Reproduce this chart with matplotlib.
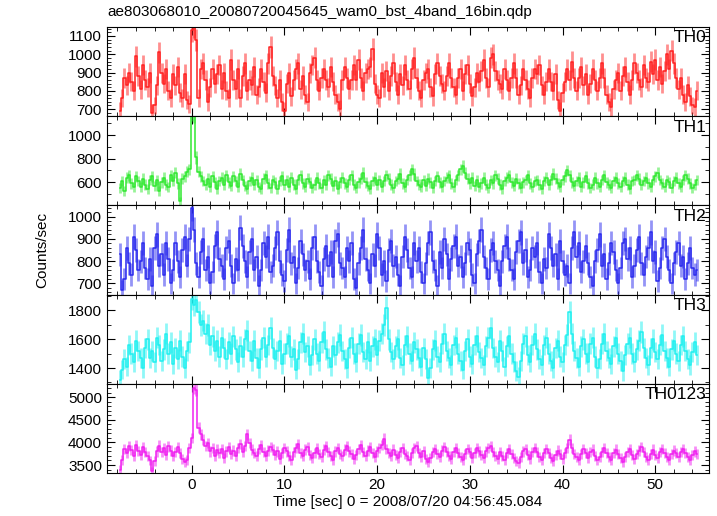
import numpy as np
import matplotlib
matplotlib.use("Agg")
import matplotlib.pyplot as plt
from matplotlib.ticker import MultipleLocator

plt.rcParams['font.family'] = ['Liberation Sans', 'DejaVu Sans']

# light curves, 0.25 s bins starting at t = -7.75 s
bin_start = -7.75
bin_width = 0.25

th0 = [
    690, 760, 870, 830, 900, 850, 800, 990, 880, 810, 940, 860,
    820, 900, 680, 720, 830, 1010, 900, 840, 920, 800, 760, 890,
    830, 930, 790, 760, 890, 750, 730, 1130, 1150, 1080, 760, 920,
    950, 860, 740, 820, 920, 840, 890, 940, 810, 900, 800, 760,
    970, 860, 810, 920, 760, 880, 950, 800, 860, 830, 930, 780,
    820, 920, 850, 790, 950, 1040, 880, 830, 760, 860, 740, 690,
    840, 900, 770, 860, 920, 950, 810, 880, 780, 740, 900, 940,
    980, 860, 800, 870, 920, 860, 820, 930, 850, 780, 740, 700,
    860, 930, 870, 810, 860, 940, 860, 970, 870, 800, 900, 920,
    930, 1030, 840, 780, 760, 900, 820, 910, 800, 880, 950, 850,
    780, 890, 830, 940, 860, 810, 920, 980, 870, 800, 760, 860,
    900, 920, 820, 770, 890, 950, 880, 840, 800, 880, 950, 870,
    820, 780, 870, 920, 800, 890, 940, 840, 770, 820, 900, 850,
    910, 970, 870, 820, 980, 1000, 910, 860, 840, 810, 920, 860,
    800, 870, 950, 870, 780, 830, 920, 860, 810, 760, 870, 920,
    890, 940, 830, 780, 850, 920, 850, 800, 890, 750, 690, 790,
    850, 920, 860, 960, 870, 800, 870, 930, 830, 890, 780, 840,
    920, 860, 800, 870, 950, 870, 780, 740, 710, 810, 860, 900,
    800, 880, 930, 850, 780, 860, 950, 900, 860, 820, 940, 870,
    850, 960, 890, 970, 860, 930, 840, 910, 1000, 920, 1020, 950,
    870, 810, 870, 780, 740, 830, 770, 720, 710, 800,
]

th1 = [
    550, 610, 530, 640, 660, 590, 560, 650, 610, 560, 630, 580,
    540, 620, 650, 570, 620, 530, 600, 640, 580, 560, 660, 610,
    680, 590, 440, 630, 650, 690, 710, 1180, 1160, 810, 690, 650,
    610, 580, 630, 560, 650, 600, 540, 610, 640, 580, 660, 600,
    570, 650, 610, 560, 670, 620, 570, 540, 610, 640, 580, 620,
    560, 540, 630, 660, 590, 550, 620, 600, 540, 610, 650, 580,
    620, 560, 640, 580, 540, 620, 660, 590, 560, 630, 600, 550,
    580, 640, 590, 550, 620, 580, 660, 630, 570, 610, 540, 600,
    640, 590, 560, 620, 660, 580, 550, 600, 630, 680, 600, 570,
    540, 610, 640, 580, 620, 560, 610, 660, 630, 580, 550, 610,
    630, 670, 590, 560, 620, 660, 710, 670, 610, 580, 560, 620,
    570, 630, 600, 550, 610, 650, 600, 560, 610, 640, 660, 590,
    560, 620, 660, 710, 740, 680, 630, 590, 640, 570, 620, 560,
    590, 640, 580, 550, 620, 590, 660, 630, 580, 540, 610, 640,
    660, 600, 570, 630, 590, 550, 600, 620, 660, 590, 560, 610,
    620, 580, 540, 610, 640, 580, 620, 670, 630, 590, 560, 620,
    650, 700, 660, 600, 570, 610, 640, 560, 600, 650, 590, 550,
    580, 640, 590, 560, 620, 660, 600, 580, 550, 610, 640, 590,
    560, 610, 640, 580, 540, 610, 620, 660, 630, 580, 610, 640,
    590, 560, 620, 650, 680, 620, 590, 560, 620, 600, 550, 610,
    640, 590, 560, 620, 660, 630, 590, 550, 580, 620,
]

th2 = [
    830, 670, 720, 860, 790, 740, 910, 850, 760, 800, 880, 770,
    720, 810, 690, 860, 920, 780, 830, 740, 880, 810, 700, 760,
    880, 800, 730, 850, 910, 780, 900, 1040, 940, 790, 730, 840,
    900, 760, 820, 700, 750, 870, 930, 810, 780, 720, 860, 890,
    780, 700, 810, 760, 950, 870, 800, 730, 840, 900, 760, 820,
    690, 760, 880, 820, 910, 750, 780, 860, 930, 800, 740, 710,
    850, 940, 790, 820, 700, 770, 890, 830, 760, 800, 720, 860,
    910, 800, 750, 690, 810, 870, 780, 840, 730, 890, 920, 790,
    770, 730, 860, 800, 880, 720, 680, 790, 860, 940, 810, 760,
    700, 830, 780, 920, 860, 740, 800, 710, 850, 890, 780, 820,
    740, 690, 820, 910, 850, 770, 730, 880, 800, 860, 750, 700,
    790, 880, 930, 800, 760, 690, 840, 770, 900, 830, 720, 810,
    870, 910, 780, 820, 730, 790, 880, 850, 740, 700, 830, 890,
    940, 820, 770, 720, 850, 880, 800, 760, 690, 800, 870, 910,
    810, 760, 720, 840, 890, 930, 790, 850, 730, 760, 860, 820,
    880, 750, 700, 810, 770, 920, 860, 780, 830, 720, 890, 800,
    740, 780, 700, 860, 930, 820, 880, 750, 800, 870, 790, 730,
    690, 800, 850, 920, 780, 830, 720, 790, 880, 840, 760, 700,
    770, 880, 900, 810, 860, 730, 780, 850, 910, 790, 740, 820,
    860, 930, 800, 840, 710, 770, 860, 900, 820, 760, 700, 790,
    840, 880, 780, 820, 720, 790, 860, 770, 740, 760,
]

th3 = [
    1320, 1390, 1460, 1410, 1560, 1500, 1440, 1590, 1520, 1470, 1400, 1540,
    1600, 1470, 1520, 1440, 1610, 1560, 1450, 1530, 1640, 1500, 1580, 1430,
    1540, 1460, 1590, 1480, 1400, 1520, 1580, 1880, 1840, 1870, 1790, 1700,
    1730, 1640, 1700, 1560, 1620, 1520, 1590, 1480, 1610, 1540, 1460, 1580,
    1500, 1620, 1530, 1440, 1550, 1480, 1600, 1660, 1520, 1450, 1590, 1470,
    1400, 1530, 1610, 1480, 1560, 1680, 1540, 1460, 1520, 1590, 1430, 1500,
    1570, 1620, 1480, 1530, 1390, 1460, 1580, 1640, 1510, 1550, 1420, 1490,
    1600, 1500, 1450, 1580, 1650, 1530, 1470, 1410, 1550, 1490, 1580, 1630,
    1520, 1460, 1400, 1540, 1610, 1500, 1440, 1570, 1630, 1510, 1460, 1580,
    1450, 1550, 1600, 1490, 1590, 1640, 1700, 1820, 1600, 1510, 1460, 1550,
    1600, 1470, 1420, 1560, 1620, 1500, 1450, 1580, 1530, 1470, 1410, 1540,
    1460, 1330, 1400, 1530, 1590, 1480, 1440, 1570, 1640, 1520, 1470, 1420,
    1560, 1610, 1500, 1450, 1390, 1520, 1600, 1480, 1430, 1560, 1620, 1510,
    1470, 1420, 1550, 1610, 1680, 1540, 1480, 1440, 1590, 1520, 1410, 1550,
    1620, 1500, 1440, 1380, 1340, 1450, 1570, 1620, 1490, 1440, 1560, 1640,
    1530, 1460, 1420, 1560, 1610, 1500, 1450, 1400, 1540, 1590, 1480, 1440,
    1560, 1630, 1790, 1640, 1520, 1470, 1410, 1550, 1600, 1500, 1440, 1570,
    1610, 1480, 1400, 1460, 1570, 1640, 1520, 1470, 1430, 1550, 1610, 1500,
    1450, 1380, 1490, 1570, 1610, 1500, 1440, 1530, 1590, 1650, 1540, 1470,
    1420, 1540, 1600, 1510, 1460, 1560, 1630, 1520, 1470, 1410, 1530, 1590,
    1500, 1450, 1560, 1620, 1520, 1460, 1420, 1510, 1580, 1490,
]

th0123 = [
    3400, 3620, 3850, 3760, 3920, 3830, 3700, 3940, 3810, 3720, 3890, 3780,
    3690, 3600, 3360, 3580, 3800, 3930, 3780, 3880, 3720, 3910, 3820, 3700,
    3790, 3900, 3760, 3640, 3560, 3620, 3880, 4100, 5200, 5150, 4320, 4180,
    4060, 3920, 3980, 3800, 3880, 3700, 3840, 3760, 3860, 3650, 3800, 3900,
    3740, 3820, 3700, 3880, 3960, 3780, 3920, 4180, 3990, 3840, 3760, 3700,
    3860, 3940, 3780, 3690, 3820, 3900, 3840, 3720, 3800, 3640, 3760, 3880,
    3800, 3700, 3620, 3780, 3880, 3960, 3760, 3690, 3840, 3900, 3720, 3660,
    3760, 3880, 3740, 3680, 3840, 3920, 3780, 3700, 3620, 3800, 3870, 3740,
    3700, 3840, 3920, 3800, 3740, 3640, 3720, 3860, 3940, 3780, 3700, 3820,
    3900, 3760, 3680, 3800, 3880, 3940, 4080, 3860, 3760, 3700, 3840, 3720,
    3660, 3780, 3880, 3740, 3700, 3600, 3760, 3880, 3920, 3760, 3680, 3800,
    3640, 3560, 3660, 3780, 3860, 3740, 3680, 3820, 3900, 3780, 3700, 3640,
    3780, 3880, 3760, 3680, 3620, 3740, 3860, 3780, 3660, 3760, 3880, 3800,
    3720, 3660, 3800, 3880, 3920, 3780, 3700, 3640, 3780, 3700, 3620, 3760,
    3860, 3740, 3660, 3580, 3540, 3680, 3800, 3860, 3720, 3640, 3780, 3880,
    3780, 3680, 3620, 3760, 3860, 3760, 3660, 3580, 3720, 3820, 3740, 3640,
    3760, 3880, 4060, 3880, 3740, 3680, 3600, 3740, 3860, 3760, 3660, 3780,
    3840, 3700, 3600, 3680, 3780, 3880, 3760, 3680, 3620, 3760, 3840, 3740,
    3660, 3560, 3680, 3780, 3860, 3720, 3640, 3740, 3820, 3900, 3780, 3680,
    3620, 3740, 3840, 3720, 3660, 3780, 3860, 3760, 3680, 3600, 3740, 3820,
    3760, 3680, 3780, 3860, 3760, 3680, 3620, 3720, 3800, 3740,
]

names = ["TH0", "TH1", "TH2", "TH3", "TH0123"]
series = [th0, th1, th2, th3, th0123]
colors = ["#ff2020", "#30e830", "#2a2aee", "#20f0f0", "#f020f0"]
ylims = [(662, 1150), (405, 1160), (650, 1050), (1290, 1910), (3320, 5290)]
major = [100, 200, 100, 200, 500]
minor = [20, 100, 20, 100, 100]

fig, axes = plt.subplots(5, 1, sharex=True, figsize=(7.17, 5.16), dpi=100)
fig.subplots_adjust(left=0.149, right=0.989, top=0.948, bottom=0.083, hspace=0)

for ax, name, y, c, yl, mj, mn in zip(axes, names, series, colors, ylims, major, minor):
    y = np.array(y, dtype=float)
    t = bin_start + bin_width * np.arange(len(y))
    err = np.sqrt(y / 0.3)
    ax.errorbar(t, y, yerr=err, fmt='none', ecolor=c, alpha=0.5, elinewidth=2.0)
    ax.step(t, y, where='mid', color=c, lw=1.1)
    ax.set_ylim(*yl)
    ax.set_xlim(-9.15, 55.8)
    ax.yaxis.set_major_locator(MultipleLocator(mj))
    ax.yaxis.set_minor_locator(MultipleLocator(mn))
    ax.xaxis.set_major_locator(MultipleLocator(10))
    ax.xaxis.set_minor_locator(MultipleLocator(2))
    ax.tick_params(which='both', direction='in', top=True, right=True, labelsize=11)
    ax.tick_params(which='major', length=6)
    ax.tick_params(which='minor', length=3)
    ax.text(0.995, 0.96, name, transform=ax.transAxes, ha='right', va='top', fontsize=12.5)

fig.text(107 / 717, 1 - 12 / 516, "ae803068010_20080720045645_wam0_bst_4band_16bin.qdp",
         ha='left', va='center', fontsize=11)
fig.text(42 / 717, 1 - 250 / 516, "Counts/sec", rotation=90, ha='center', va='center', fontsize=11)
fig.text(408 / 717, 1 - 502 / 516, "Time [sec] 0 = 2008/07/20 04:56:45.084",
         ha='center', va='center', fontsize=11)

fig.savefig("out.png", dpi=100)
